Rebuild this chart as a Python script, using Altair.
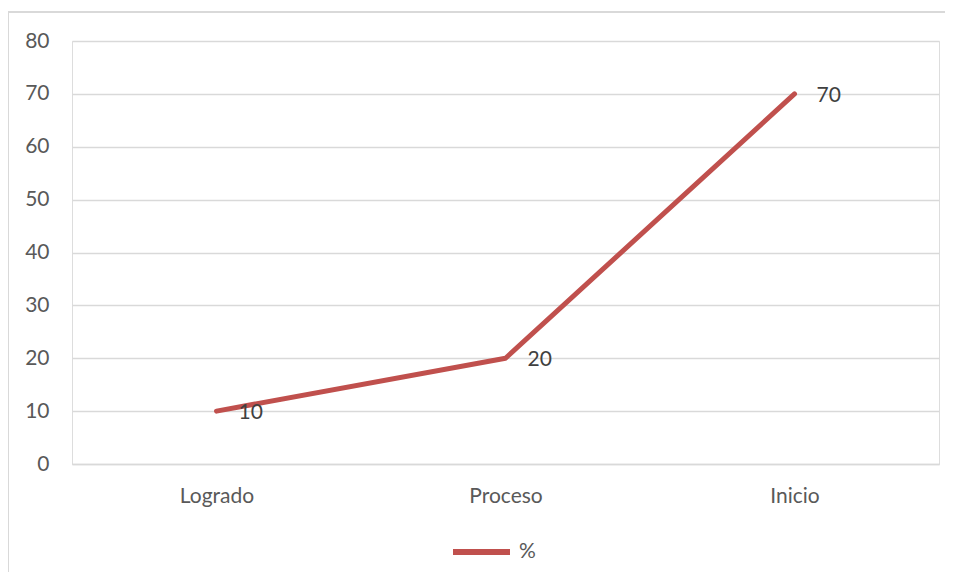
import altair as alt
import pandas as pd

categories = ["Logrado", "Proceso", "Inicio"]
values = [10, 20, 70]
series_name = "%"

df = pd.DataFrame({"cat": categories, "val": values, "serie": [series_name] * 3})

FONT = "Lato"
FS = 21
W, H = 867, 423

x = alt.X("cat:N", sort=categories, title=None,
          scale=alt.Scale(paddingInner=0, paddingOuter=0.5),
          axis=alt.Axis(labelAngle=0, labelFontSize=FS, labelColor="#595959", labelFont=FONT,
                        labelPadding=21, ticks=False, domainColor="#d9d9d9", domainWidth=1.5))
y = alt.Y("val:Q", title=None, scale=alt.Scale(domain=[0, 80]),
          axis=alt.Axis(values=list(range(0, 81, 10)), labelFontSize=FS, labelColor="#595959",
                        labelFont=FONT, labelPadding=23, ticks=False, domain=False,
                        gridColor="#d9d9d9", gridWidth=1.5))

line = alt.Chart(df).mark_line(strokeWidth=5, strokeCap="round", strokeJoin="round").encode(
    x=x, y=y,
    color=alt.Color("serie:N", scale=alt.Scale(range=["#C0504D"]),
                    legend=alt.Legend(title=None, orient="none", legendX=378, legendY=479.5,
                                      symbolType="stroke", symbolSize=3249, symbolStrokeWidth=6,
                                      labelFontSize=FS, labelFont=FONT, labelColor="#595959",
                                      labelOffset=6)),
)

labels = alt.Chart(df).mark_text(align="left", baseline="middle", dx=22, dy=2, fontSize=FS,
                                 font=FONT, color="#404040").encode(
    x=alt.X("cat:N", sort=categories), y="val:Q", text="val:Q")

top_border = alt.Chart(df).mark_rule(stroke="#d9d9d9", strokeWidth=1.5).encode(
    x=alt.value(-64), x2=alt.value(900), y=alt.value(-29))
left_border = alt.Chart(df).mark_rule(stroke="#d9d9d9", strokeWidth=1.5).encode(
    x=alt.value(-64), y=alt.value(-29), y2=alt.value(600))

chart = alt.layer(top_border, left_border, line, labels).properties(
    width=W, height=H,
    autosize=alt.AutoSizeParams(type="none"),
    padding={"left": 64, "top": 33, "right": 6, "bottom": 108},
).configure_view(stroke=None).configure(background="white")

chart.save("out.html", embed_options={"renderer": "svg", "actions": False})
